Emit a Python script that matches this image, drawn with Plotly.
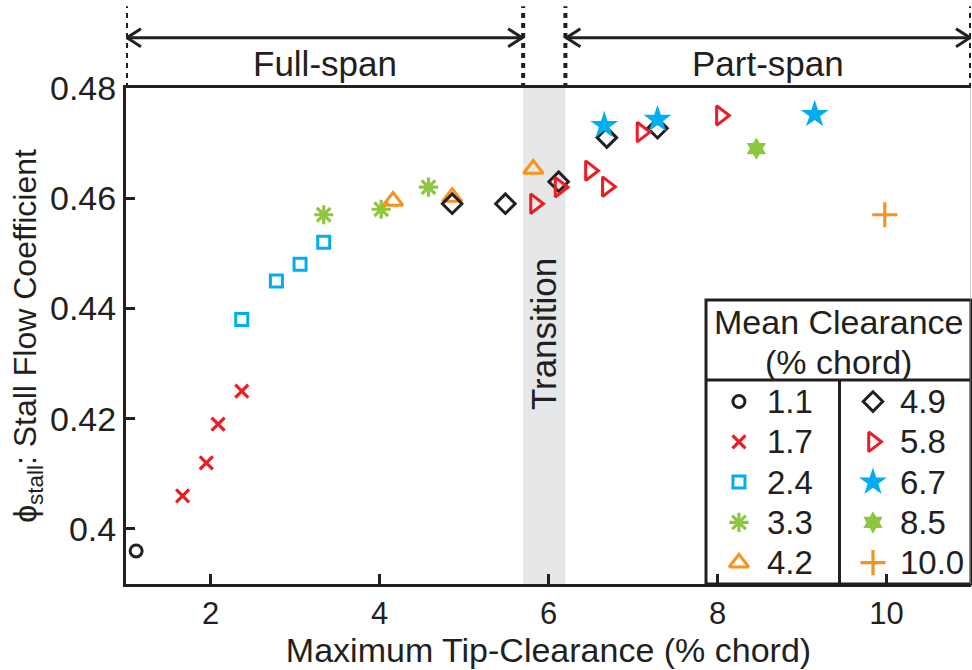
import plotly.graph_objects as go

# ---- data: max tip clearance (% chord) vs stall flow coefficient, by mean clearance ----
x_1_1 = [1.12]
y_1_1 = [0.396]

x_1_7 = [1.67, 1.95, 2.09, 2.37]
y_1_7 = [0.406, 0.412, 0.419, 0.425]

x_2_4 = [2.37, 2.78, 3.06, 3.34]
y_2_4 = [0.438, 0.445, 0.448, 0.452]

x_3_3 = [3.34, 4.02, 4.58]
y_3_3 = [0.457, 0.458, 0.462]

x_4_2 = [4.16, 4.86, 5.82]
y_4_2 = [0.4595, 0.4602, 0.4653]

x_4_9 = [4.86, 5.49, 6.12, 6.69, 7.29]
y_4_9 = [0.459, 0.459, 0.463, 0.471, 0.4727]

x_5_8 = [5.84, 6.13, 6.49, 6.69, 7.10, 8.04]
y_5_8 = [0.459, 0.462, 0.465, 0.4621, 0.472, 0.475]

x_6_7 = [6.66, 7.29, 9.15]
y_6_7 = [0.4732, 0.4743, 0.4752]

x_8_5 = [8.46]
y_8_5 = [0.469]

x_10_0 = [9.98]
y_10_0 = [0.457]

labels = ["1.1", "1.7", "2.4", "3.3", "4.2", "4.9", "5.8", "6.7", "8.5", "10.0"]

# regime boundaries
full_span = [1.0, 5.7]
part_span = [6.2, 11.0]
transition = [5.7, 6.2]

x_ticks = [2, 4, 6, 8, 10]
y_ticks = [0.40, 0.42, 0.44, 0.46, 0.48]
y_ticktext = ["0.4", "0.42", "0.44", "0.46", "0.48"]

# ---- styles ----
BLACK = "#231f20"
RED = "#ed1c24"
BLUE = "#00aeef"
GREEN = "#8dc63f"
ORANGE = "#f7941d"
BAND = "#e6e7e8"
FONT = "Liberation Sans, Arial, Helvetica, sans-serif"

styles = [
    dict(symbol="circle-open", size=12, color=BLACK, lw=3),
    dict(symbol="x-thin-open", size=13, color=RED, lw=3.2),
    dict(symbol="square-open", size=12, color=BLUE, lw=3),
    dict(symbol="asterisk-open", size=16, color=GREEN, lw=3.2),
    dict(symbol="triangle-up-open", size=17, color=ORANGE, lw=3),
    dict(symbol="diamond-open", size=15, color=BLACK, lw=3),
    dict(symbol="triangle-right-open", size=17, color=RED, lw=3),
    dict(symbol="star", size=21, color=BLUE, lw=0),
    dict(symbol="hexagram", size=17, color=GREEN, lw=0),
    dict(symbol="cross-thin-open", size=18, color=ORANGE, lw=3.2),
]

series = [
    (x_1_1, y_1_1), (x_1_7, y_1_7), (x_2_4, y_2_4), (x_3_3, y_3_3), (x_4_2, y_4_2),
    (x_4_9, y_4_9), (x_5_8, y_5_8), (x_6_7, y_6_7), (x_8_5, y_8_5), (x_10_0, y_10_0),
]

fig = go.Figure()


def marker_of(st):
    return dict(symbol=st["symbol"], size=st["size"], color=st["color"],
                line=dict(color=st["color"], width=st["lw"]))


for (xs, ys), st, lab in zip(series, styles, labels):
    fig.add_trace(go.Scatter(x=xs, y=ys, mode="markers", name=lab,
                             marker=marker_of(st), cliponaxis=False,
                             showlegend=False))

# ---- custom two-column legend on an overlay axis in [0, 1] ----
leg_x0, leg_x1, leg_y0, leg_y1 = 0.6864, 1.0, 0.0, 0.5726
leg_head_line = 0.4113
leg_div = 0.8444
row_y0, row_step = 0.3679, 0.08125
col_marker_x = [0.7254, 0.8840]
col_text_x = [0.7562, 0.9136]

for i, (st, lab) in enumerate(zip(styles, labels)):
    col, row = divmod(i, 5)
    ry = row_y0 - row * row_step
    fig.add_trace(go.Scatter(x=[col_marker_x[col]], y=[ry], mode="markers",
                             marker=marker_of(st), xaxis="x2", yaxis="y2",
                             cliponaxis=False, showlegend=False, hoverinfo="skip"))
    fig.add_annotation(x=col_text_x[col], y=ry, xref="paper", yref="paper",
                       text=lab, showarrow=False, xanchor="left", yanchor="middle",
                       font=dict(size=33, color=BLACK, family=FONT))

leg_cx = (leg_x0 + leg_x1) / 2
fig.add_annotation(x=leg_cx, y=0.5288, xref="paper", yref="paper",
                   text="Mean Clearance", showarrow=False, xanchor="center",
                   yanchor="middle", font=dict(size=34, color=BLACK, family=FONT))
fig.add_annotation(x=leg_cx, y=0.4482, xref="paper", yref="paper",
                   text="(% chord)", showarrow=False, xanchor="center",
                   yanchor="middle", font=dict(size=34, color=BLACK, family=FONT))

shapes = []
# transition band
shapes.append(dict(type="rect", xref="x", yref="paper", x0=transition[0], x1=transition[1],
                   y0=0, y1=1, fillcolor=BAND, line=dict(width=0), layer="below"))
# legend frame
shapes.append(dict(type="rect", xref="paper", yref="paper", x0=leg_x0, x1=leg_x1,
                   y0=leg_y0, y1=leg_y1, line=dict(color=BLACK, width=3), layer="below"))
shapes.append(dict(type="line", xref="paper", yref="paper", x0=leg_x0, x1=leg_x1,
                   y0=leg_head_line, y1=leg_head_line, line=dict(color=BLACK, width=3)))
shapes.append(dict(type="line", xref="paper", yref="paper", x0=leg_div, x1=leg_div,
                   y0=leg_y0, y1=leg_head_line, line=dict(color=BLACK, width=3)))
# right frame edge
shapes.append(dict(type="line", xref="x", yref="paper", x0=11, x1=11, y0=0, y1=1,
                   line=dict(color="#9a9a9a", width=1)))

# dotted boundary markers above the plot
arrow_y = 1.1014
for xb in [full_span[0], full_span[1], part_span[0], part_span[1]]:
    shapes.append(dict(type="line", xref="x", yref="paper", x0=xb, x1=xb,
                       y0=1.0, y1=1.165,
                       line=dict(color=BLACK, width=4, dash="5px,5px")))

# span arrows with open chevron heads
for a, b in [full_span, part_span]:
    shapes.append(dict(type="line", xref="x", yref="paper", x0=a, x1=b,
                       y0=arrow_y, y1=arrow_y, line=dict(color=BLACK, width=3)))
    shapes.append(dict(type="path", xref="x", yref="paper", xsizemode="pixel",
                       ysizemode="pixel", xanchor=a, yanchor=arrow_y,
                       path="M 15,9 L 1,0 L 15,-9", line=dict(color=BLACK, width=3)))
    shapes.append(dict(type="path", xref="x", yref="paper", xsizemode="pixel",
                       ysizemode="pixel", xanchor=b, yanchor=arrow_y,
                       path="M -15,9 L -1,0 L -15,-9", line=dict(color=BLACK, width=3)))

fig.add_annotation(x=sum(full_span) / 2, y=1.0504, xref="x", yref="paper",
                   text="Full-span", showarrow=False, yanchor="middle",
                   font=dict(size=35, color=BLACK, family=FONT))
fig.add_annotation(x=sum(part_span) / 2, y=1.0504, xref="x", yref="paper",
                   text="Part-span", showarrow=False, yanchor="middle",
                   font=dict(size=35, color=BLACK, family=FONT))
fig.add_annotation(x=sum(transition) / 2, y=0.4354, xref="x", yref="y",
                   text="Transition", showarrow=False, textangle=-90,
                   font=dict(size=35, color=BLACK, family=FONT))

fig.update_layout(
    width=972, height=670,
    margin=dict(l=126, r=1, t=88, b=86),
    paper_bgcolor="white", plot_bgcolor="white",
    shapes=shapes,
    font=dict(family=FONT, color=BLACK),
    xaxis=dict(range=[1, 11], tickvals=x_ticks, ticks="inside", ticklen=10,
               tickwidth=3, tickcolor=BLACK, showline=True, linewidth=3,
               linecolor=BLACK, mirror=True, showgrid=False, zeroline=False,
               tickfont=dict(size=31, color=BLACK, family=FONT),
               title=dict(text="Maximum Tip-Clearance (% chord)",
                          font=dict(size=34, color=BLACK, family=FONT), standoff=0)),
    yaxis=dict(range=[0.39, 0.48], tickvals=y_ticks, ticktext=y_ticktext,
               ticks="inside", ticklen=9, tickwidth=3, tickcolor=BLACK,
               showline=True, linewidth=3, linecolor=BLACK, mirror=False,
               showgrid=False, zeroline=False,
               tickfont=dict(size=34, color=BLACK, family=FONT),
               title=dict(text="ϕ<sub>stall</sub>: Stall Flow Coefficient",
                          font=dict(size=32, color=BLACK, family=FONT), standoff=4)),
    xaxis2=dict(range=[0, 1], overlaying="x", visible=False, fixedrange=True),
    yaxis2=dict(range=[0, 1], overlaying="y", visible=False, fixedrange=True),
)

fig.write_html("out.html")
